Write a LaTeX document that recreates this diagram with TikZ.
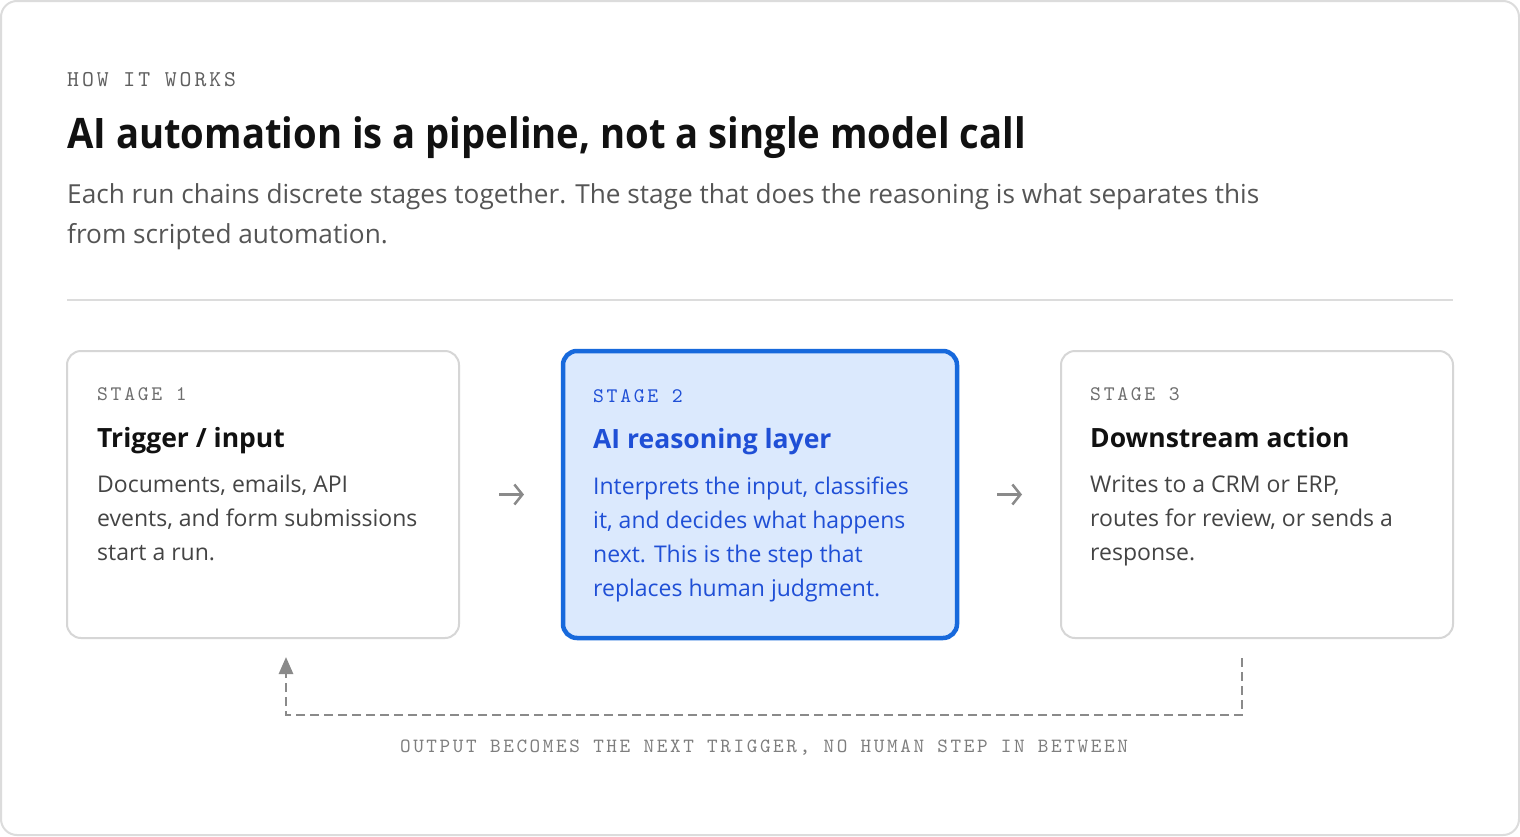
\documentclass[tikz,border=0pt]{standalone}
\usepackage{fontspec}
\usepackage{tikz}
\usepackage{xcolor}
\usetikzlibrary{positioning, arrows.meta}

\setmainfont{Open Sans}
\newfontfamily\headlinefont{Open Sans}[FakeStretch=0.91]
\newfontfamily\tagfont{lmmono10-regular}[Extension=.otf, LetterSpace=13]

\definecolor{cardline}{HTML}{DCDCDC}
\definecolor{boxline}{HTML}{D6D6D6}
\definecolor{inkblack}{HTML}{111111}
\definecolor{ledegray}{HTML}{555555}
\definecolor{kickgray}{HTML}{5F5F5F}
\definecolor{taggray}{HTML}{6E6E6E}
\definecolor{bodygray}{HTML}{444444}
\definecolor{arrowgray}{HTML}{8A8A8A}
\definecolor{notegray}{HTML}{7E7E7E}
\definecolor{activeline}{HTML}{1769DC}
\definecolor{activefill}{HTML}{DBE9FD}
\definecolor{activeink}{HTML}{1F4FD6}

% lines of a text block, baseline of the block = baseline of its first line
\newcommand{\textlines}[2][34pt]{\parbox[t]{1300pt}{\setlength{\baselineskip}{#1}#2}}

\tikzset{
  stagebox/.style={draw=boxline, line width=2pt, fill=white, rounded corners=14pt,
    minimum width=392pt, minimum height=287pt, inner sep=0pt, outer sep=0pt},
  activebox/.style={stagebox, draw=activeline, fill=activefill, line width=4.5pt,
    minimum width=394pt},
  monotext/.style={font=\tagfont\fontsize{#1}{#1}\selectfont},
  kicker/.style={monotext=22.6, text=kickgray, anchor=base west, inner sep=0pt},
  headline/.style={font=\headlinefont\bfseries\fontsize{42}{50}\selectfont, text=inkblack,
    anchor=base west, inner sep=0pt},
  lede/.style={font=\fontsize{26.2}{40}\selectfont, text=ledegray,
    anchor=base west, inner sep=0pt},
  stagetag/.style={monotext=20.7, text=taggray, anchor=base west, inner sep=0pt},
  stagetitle/.style={font=\bfseries\fontsize{26.5}{30}\selectfont, text=inkblack,
    anchor=base west, inner sep=0pt},
  stagebody/.style={font=\fontsize{23}{34}\selectfont, text=bodygray,
    anchor=base west, inner sep=0pt},
  nextarrow/.style={draw=arrowgray, line width=2.5pt,
    -{Straight Barb[length=8pt, width=20pt]}},
  loopline/.style={draw=arrowgray, line width=2.8pt, dash pattern=on 9pt off 5pt,
    -{Triangle[length=17pt, width=14pt]}},
  loopnote/.style={monotext=20.2, text=notegray, anchor=base, inner sep=0pt},
}

\begin{document}
\begin{tikzpicture}[x=1pt, y=-1pt, node distance=104pt]
\useasboundingbox (0,0) rectangle (1520,836);

% card and header
\draw[draw=cardline, line width=2pt, fill=white, rounded corners=16pt] (1,1) rectangle (1519,835);
\node[kicker] (kicker) at (67,86) {HOW IT WORKS};
\node[headline] (headline) at (67,148) {AI automation is a pipeline, not a single model call};
\node[lede] (lede) at (67,203) {\textlines[40pt]{Each run chains discrete stages together. The stage that does the reasoning is what separates this\\from scripted automation.}};
\draw[draw=cardline, line width=2pt] (67,300) -- (1453,300);

% the three stages
\node[stagebox] (trigger) at (263,494.5) {};
\node[activebox, right=of trigger] (reasoning) {};
\node[stagebox, right=of reasoning] (action) {};

\node[stagetag] (trigger-tag) at ([xshift=30pt, yshift=-49pt]trigger.north west) {STAGE 1};
\node[stagetitle] (trigger-title) at ([xshift=30pt, yshift=-96pt]trigger.north west) {Trigger / input};
\node[stagebody] (trigger-body) at ([xshift=30pt, yshift=-141pt]trigger.north west) {\textlines{Documents, emails, API\\events, and form submissions\\start a run.}};

\node[stagetag, text=activeink] (reasoning-tag) at ([xshift=30pt, yshift=-51pt]reasoning.north west) {STAGE 2};
\node[stagetitle, text=activeink] (reasoning-title) at ([xshift=30pt, yshift=-97pt]reasoning.north west) {AI reasoning layer};
\node[stagebody, text=activeink] (reasoning-body) at ([xshift=30pt, yshift=-143pt]reasoning.north west) {\textlines{Interprets the input, classifies\\it, and decides what happens\\next. This is the step that\\replaces human judgment.}};

\node[stagetag] (action-tag) at ([xshift=29pt, yshift=-49pt]action.north west) {STAGE 3};
\node[stagetitle] (action-title) at ([xshift=29pt, yshift=-96pt]action.north west) {Downstream action};
\node[stagebody] (action-body) at ([xshift=29pt, yshift=-141pt]action.north west) {\textlines{Writes to a CRM or ERP,\\routes for review, or sends a\\response.}};

% forward arrows
\draw[nextarrow, shorten <=40pt, shorten >=39pt] (trigger) -- (reasoning);
\draw[nextarrow, shorten <=40pt, shorten >=39pt] (reasoning) -- (action);

% feedback loop
\coordinate (loop-out) at ([xshift=-15pt, yshift=-20pt]action.south);
\coordinate (loop-in) at ([xshift=23pt, yshift=-19pt]trigger.south);
\draw[loopline] (loop-out) -- ++(0,57) -| (loop-in);
\node[loopnote] (loop-note) at (764,752) {OUTPUT BECOMES THE NEXT TRIGGER, NO HUMAN STEP IN BETWEEN};
\end{tikzpicture}
\end{document}
